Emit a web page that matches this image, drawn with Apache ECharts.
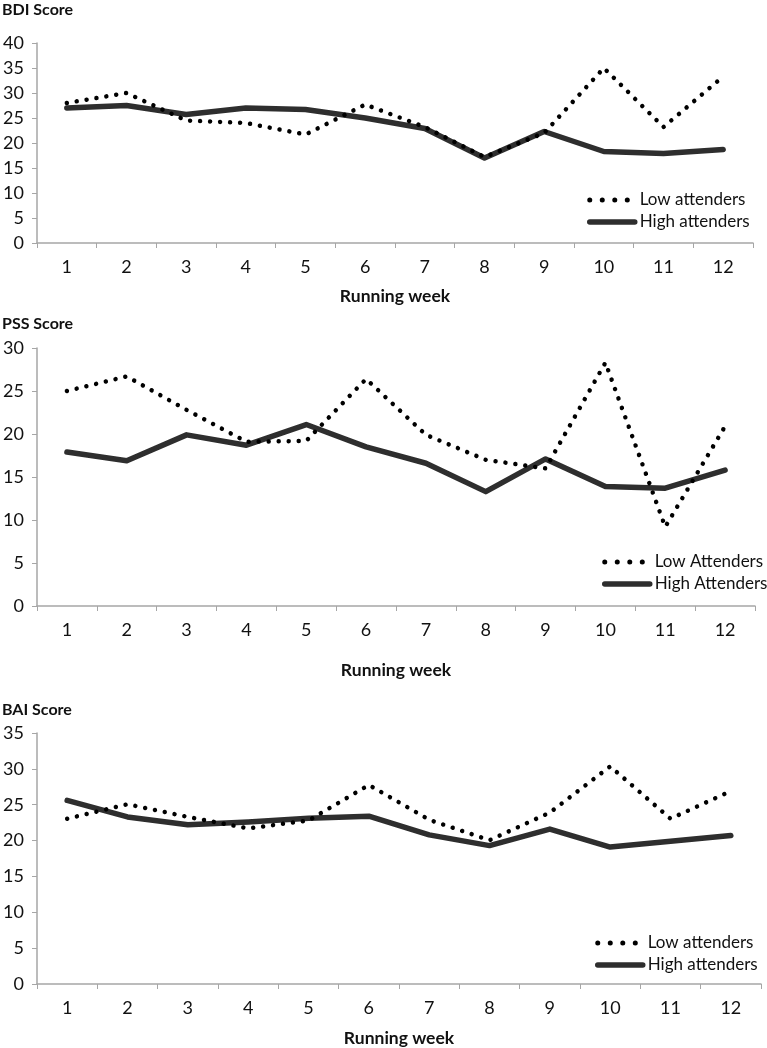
<!DOCTYPE html>
<html>
<head>
<meta charset="utf-8">
<script src="https://cdn.jsdelivr.net/npm/echarts@6/dist/echarts.min.js"></script>
<style>
html,body{margin:0;padding:0;background:#fff;}
#c{width:767px;height:1048px;}
</style>
</head>
<body>
<div id="c"></div>
<script>
var weeks = ['1','2','3','4','5','6','7','8','9','10','11','12'];

var bdiLow  = [28, 30, 24.5, 24, 21.7, 27.7, 23.2, 17.2, 22, 35, 23.2, 33.3];
var bdiHigh = [27, 27.5, 25.7, 27, 26.7, 25, 22.9, 17, 22.3, 18.3, 17.9, 18.7];

var pssLow  = [25.0, 26.7, 22.8, 19.1, 19.2, 26.4, 19.9, 17.0, 16.0, 28.3, 9.2, 20.9];
var pssHigh = [17.9, 16.9, 19.9, 18.7, 21.1, 18.5, 16.6, 13.3, 17.1, 13.9, 13.7, 15.8];

var baiLow  = [23.05, 25.07, 23.3, 21.7, 22.8, 27.75, 22.9, 20.05, 23.9, 30.35, 23.05, 26.9];
var baiHigh = [25.6, 23.3, 22.2, 22.6, 23.1, 23.4, 20.8, 19.3, 21.6, 19.1, 19.9, 20.7];

var panelTitles = ['BDI Score', 'PSS Score', 'BAI Score'];
var xName = 'Running week';
var legendNames = [
  ['Low attenders', 'High attenders'],
  ['Low Attenders', 'High Attenders'],
  ['Low attenders', 'High attenders']
];
var yMax = [40, 30, 35];

var FONT = 'Lato';
var axisGray = '#a6a6a6';
var textCol = '#111';

var dotStyle = {color: '#000', width: 4.5, type: [0.01, 10], cap: 'round'};
var legendDotStyle = {color: '#000', width: 5, type: [0.01, 12.5], cap: 'round'};
var solidStyle = {color: '#2e2e2e', width: 5.5, type: 'solid', cap: 'round', join: 'round'};

var grids = [
  {left: 37, top: 43, right: 14, height: 200},
  {left: 37, top: 348, right: 12, height: 258},
  {left: 37, top: 733, right: 6, height: 260}
];
var nameGaps = [44, 55, 45];
var titleTops = [2, 316, 702];
var legendPos = [
  {left: 587, top: 191},
  {left: 602, top: 553},
  {left: 595, top: 934}
];

var xAxes = [], yAxes = [], series = [], titles = [], legends = [];
var lowData = [bdiLow, pssLow, baiLow];
var highData = [bdiHigh, pssHigh, baiHigh];

for (var i = 0; i < 3; i++) {
  xAxes.push({
    type: 'category', gridIndex: i, data: weeks, boundaryGap: true,
    name: xName, nameLocation: 'middle', nameGap: nameGaps[i],
    nameTextStyle: {fontFamily: FONT, fontWeight: 'bold', fontSize: 17.5, color: textCol},
    axisLine: {show: true, lineStyle: {color: axisGray, width: 1.5}},
    axisTick: {show: true, length: 5, alignWithLabel: false, lineStyle: {color: axisGray, width: 1}},
    axisLabel: {fontFamily: FONT, fontSize: 18, color: textCol, margin: 15},
    splitLine: {show: false}
  });
  yAxes.push({
    type: 'value', gridIndex: i, min: 0, max: yMax[i], interval: 5,
    axisLine: {show: true, lineStyle: {color: axisGray, width: 1.5}},
    axisTick: {show: true, length: 5, lineStyle: {color: axisGray, width: 1}},
    axisLabel: {fontFamily: FONT, fontSize: 18, color: textCol, margin: 13},
    splitLine: {show: false}
  });
  titles.push({
    text: panelTitles[i], left: 2, top: titleTops[i], padding: 0,
    textStyle: {fontFamily: FONT, fontWeight: 'bold', fontSize: 16, color: textCol}
  });
  series.push({
    name: legendNames[i][0], type: 'line', xAxisIndex: i, yAxisIndex: i,
    data: lowData[i], symbol: 'none', showSymbol: false, lineStyle: dotStyle,
    itemStyle: {color: '#000'}, z: 3, animation: false
  });
  series.push({
    name: legendNames[i][1], type: 'line', xAxisIndex: i, yAxisIndex: i,
    data: highData[i], symbol: 'none', showSymbol: false, lineStyle: solidStyle,
    itemStyle: {color: '#2e2e2e'}, z: 2, animation: false
  });
  legends.push({
    orient: 'vertical', left: legendPos[i].left, top: legendPos[i].top,
    padding: 0, itemGap: 4, itemWidth: 45, itemHeight: 14,
    selectedMode: false,
    textStyle: {fontFamily: FONT, fontSize: 17, color: textCol, lineHeight: 18},
    data: [
      {name: legendNames[i][0], lineStyle: legendDotStyle, itemStyle: {opacity: 0}},
      {name: legendNames[i][1], lineStyle: solidStyle, itemStyle: {opacity: 0}}
    ]
  });
}

var chart = echarts.init(document.getElementById('c'), null, {renderer: 'canvas'});
chart.setOption({
  animation: false,
  backgroundColor: '#fff',
  title: titles,
  legend: legends,
  grid: grids,
  xAxis: xAxes,
  yAxis: yAxes,
  series: series
});
</script>
</body>
</html>
